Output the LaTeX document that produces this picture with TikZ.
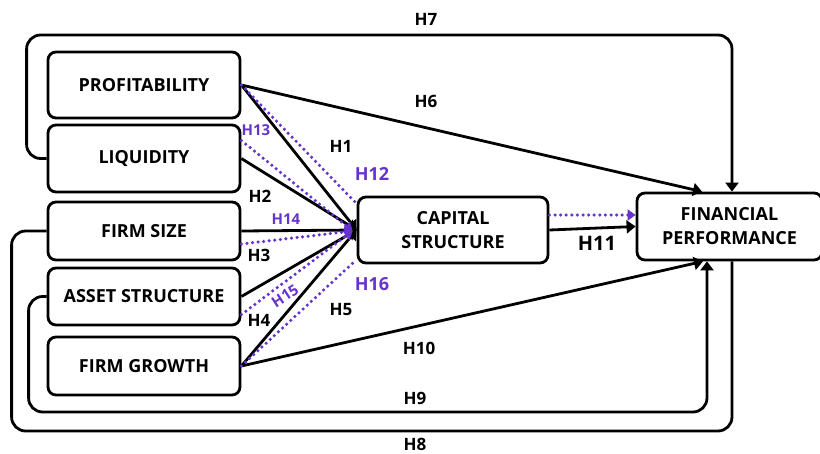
\documentclass[tikz,border=0pt]{standalone}
\usepackage{fontspec}
\setmainfont{Open Sans}
\usetikzlibrary{arrows.meta,calc}
\definecolor{hpurple}{RGB}{102,51,204}
\begin{document}
\begin{tikzpicture}[x=1pt,y=-1pt,
  box/.style={draw, line width=2.8pt, rounded corners=8pt, align=center,
    font=\fontsize{18}{24}\selectfont\bfseries, inner sep=0pt},
  conn/.style={line width=2.8pt, black},
  arr/.style={conn, -{Triangle[length=9pt,width=13pt]}},
  dotline/.style={line width=3.5pt, hpurple, line cap=round, dash pattern=on 0pt off 5.6pt},
  parr/.style={dotline, -{Triangle[length=8pt,width=11pt]}},
  lab/.style={font=\fontsize{17}{17}\selectfont\bfseries, inner sep=0pt},
  plab/.style={lab, text=hpurple},
  splab/.style={plab, font=\fontsize{15}{15}\selectfont\bfseries},
]
\useasboundingbox (0,0) rectangle (820,453);
\fill[white] (0,0) rectangle (820,453);

% boxes
\node[box, minimum width=192pt, minimum height=66pt] (prof) at (144,85) {PROFITABILITY};
\node[box, minimum width=192pt, minimum height=67pt] (liq) at (144,158.5) {LIQUIDITY};
\node[box, minimum width=192pt, minimum height=58pt] (size) at (144,231) {FIRM SIZE};
\node[box, minimum width=192pt, minimum height=57pt] (asset) at (144,296.5) {ASSET STRUCTURE};
\node[box, minimum width=192pt, minimum height=58pt] (grow) at (144,366) {FIRM GROWTH};
\node[box, minimum width=190pt, minimum height=66pt] (cap) at (453,230) {CAPITAL\\STRUCTURE};
\node[box, minimum width=185pt, minimum height=67pt] (fin) at (729.5,226.5) {FINANCIAL\\PERFORMANCE};

% helper coordinates
\coordinate (t7) at (732,35);
\coordinate (b8) at (732,431);
\coordinate (b9) at (707,412);
\coordinate (e6) at ($(fin.north)+(-27.5,0)$);
\coordinate (e10) at ($(fin.south)+(-26.5,0)$);
\coordinate (pin) at ($(cap.west)+(-4,1)$);

% loops
\draw[arr, rounded corners=14pt] (liq.west) -- ++(-20,0) |- (t7) -- (t7 |- fin.north);
\draw[conn, rounded corners=14pt] (size.west) -- ++(-35,0) |- (b8) -- (b8 |- fin.south);
\draw[arr, rounded corners=14pt] (asset.west) -- ++(-18,0) |- (b9) -- (b9 |- fin.south);

% direct to financial performance
\draw[arr] (prof.east) -- (e6);
\draw[arr] (grow.east) -- (e10);

% black to capital structure
\draw[arr] (prof.east) -- (cap.west);
\draw[arr] (liq.east) -- (cap.west);
\draw[arr] (size.east) -- (cap.west);
\draw[arr] (asset.east) -- (cap.west);
\draw[arr] (grow.east) -- (cap.west);

% purple dotted
\draw[dotline] (prof.east) -- ($(cap.north west)+(-2,6)$);
\draw[parr] ($(liq.east)+(0,-18)$) -- (pin);
\draw[parr] ($(size.east)+(0,13)$) -- (pin);
\draw[parr] ($(asset.east)+(0,18)$) -- (pin);
\draw[dotline] (grow.east) -- ($(cap.south west)+(-2,-3)$);

% capital structure to financial performance
\draw[arr] (cap.east) -- (fin.west);
\draw[parr] ($(cap.east)+(0,-15)$) -- ($(fin.west |- cap.east)+(0,-15)$);

% labels
\node[lab] (l7) at (426,19) {H7};
\node[lab] (l6) at (426,101) {H6};
\node[lab] (l1) at (341,146) {H1};
\node[plab, font=\fontsize{18}{18}\selectfont\bfseries] (l12) at (372,174) {H12};
\node[splab] (l13) at (256,130) {H13};
\node[lab] (l2) at (260,196) {H2};
\node[splab] (l14) at (286,219) {H14};
\node[lab] (l3) at (259,255) {H3};
\node[splab, rotate=33] (l15) at (285,296) {H15};
\node[lab] (l4) at (259,320) {H4};
\node[plab, font=\fontsize{18}{18}\selectfont\bfseries] (l16) at (372,284) {H16};
\node[lab] (l5) at (341,310) {H5};
\node[lab, font=\fontsize{20}{20}\selectfont\bfseries] (l11) at (597,243) {H11};
\node[lab] (l10) at (419,348) {H10};
\node[lab] (l9) at (415,398) {H9};
\node[lab] (l8) at (415,444) {H8};
\end{tikzpicture}
\end{document}
